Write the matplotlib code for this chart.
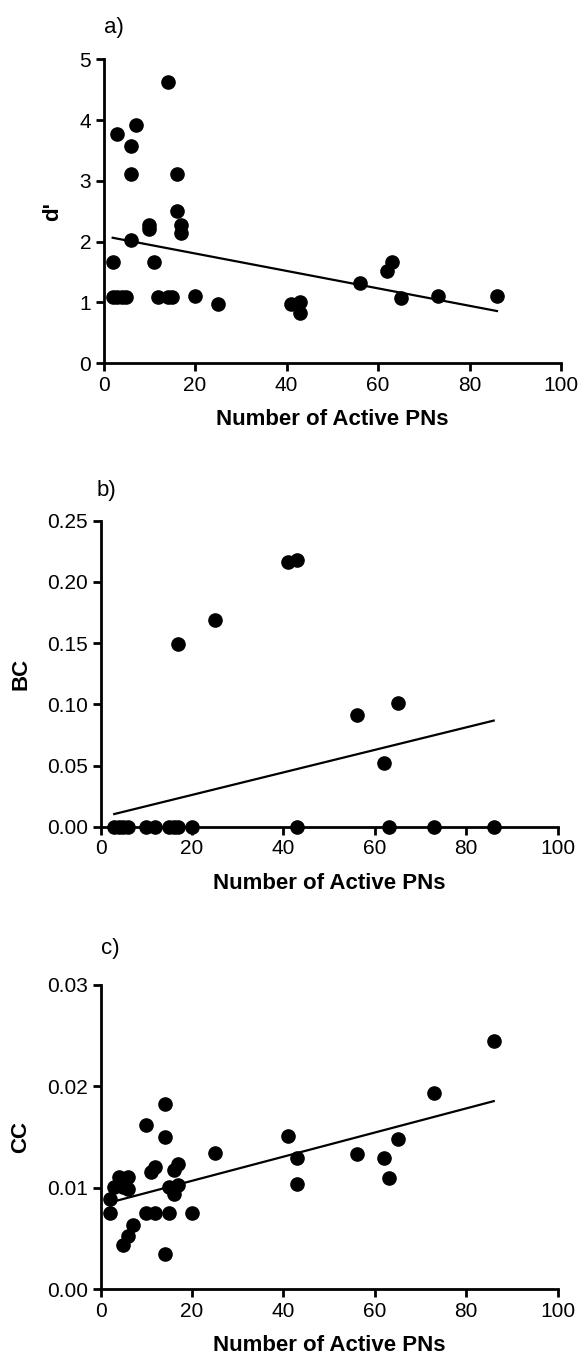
import numpy as np
import matplotlib
matplotlib.use("Agg")
import matplotlib.pyplot as plt
from matplotlib import rcParams

rcParams["font.family"] = ["Liberation Sans", "DejaVu Sans"]
rcParams["axes.linewidth"] = 2
rcParams["xtick.major.width"] = 2
rcParams["ytick.major.width"] = 2
rcParams["xtick.major.size"] = 6
rcParams["ytick.major.size"] = 6
rcParams["xtick.labelsize"] = 15
rcParams["ytick.labelsize"] = 15

# a) d' vs number of active PNs
a_x = [14, 3, 7, 6, 6, 16, 16, 10, 10, 17, 17, 6, 2, 11,
       2, 3, 4, 5, 12, 14, 15, 20, 25, 41, 43, 43, 56, 62, 63, 65, 73, 86]
a_y = [4.62, 3.77, 3.92, 3.57, 3.11, 3.11, 2.51, 2.27, 2.21, 2.28, 2.15, 2.03, 1.67, 1.67,
       1.09, 1.09, 1.09, 1.09, 1.09, 1.09, 1.09, 1.10, 0.97, 0.97, 1.00, 0.82, 1.32, 1.52, 1.67, 1.07, 1.10, 1.10]
a_fit = (2.093, -0.01435)   # intercept, slope

# b) BC vs number of active PNs
b_x = [17, 25, 41, 43, 56, 62, 65,
       3, 4, 5, 6, 10, 12, 15, 16, 17, 20, 43, 63, 73, 86]
b_y = [0.149, 0.169, 0.216, 0.218, 0.091, 0.052, 0.101,
       0, 0, 0, 0, 0, 0, 0, 0, 0, 0, 0, 0, 0, 0]
b_fit = (0.0076, 0.00092)

# c) CC vs number of active PNs
c_x = [14, 10, 14, 41, 25, 43, 43, 56, 12, 11, 17, 16, 17, 15, 16,
       2, 10, 12, 15, 20, 2, 3, 4, 6, 6, 5, 7, 6, 5, 14, 65, 62, 63, 73, 86]
c_y = [0.0183, 0.0162, 0.0150, 0.0151, 0.0134, 0.0129, 0.0104, 0.0133, 0.0121, 0.0116,
       0.0123, 0.0118, 0.0103, 0.0101, 0.0094,
       0.0075, 0.0075, 0.0075, 0.0075, 0.0075, 0.0089, 0.0101, 0.0111, 0.0111, 0.0099,
       0.0101, 0.0063, 0.0053, 0.0044, 0.0035, 0.0148, 0.0129, 0.0110, 0.0193, 0.0245]
c_fit = (0.00831, 0.000119)

x_ticks = [0, 20, 40, 60, 80, 100]

panels = [
    # x, y, fit, ylabel, letter, yticks, ytick format, axes rect, ylabel x, letter pos
    (a_x, a_y, a_fit, "d'", "a)", [0, 1, 2, 3, 4, 5], "%d",
     [0.1788, 0.7329, 0.7902, 0.2235], -0.089, (0.0, 1.105)),
    (b_x, b_y, b_fit, "BC", "b)", [0, 0.05, 0.10, 0.15, 0.20, 0.25], "%.2f",
     [0.1736, 0.3921, 0.7896, 0.2250], -0.152, (-0.008, 1.10)),
    (c_x, c_y, c_fit, "CC", "c)", [0, 0.01, 0.02, 0.03], "%.2f",
     [0.1736, 0.0520, 0.7896, 0.2238], -0.152, (0.0, 1.12)),
]

fig = plt.figure(figsize=(5.79, 13.6), dpi=100)

for x, y, fit, ylab, letter, yticks, fmt, rect, ylx, lpos in panels:
    ax = fig.add_axes(rect)
    ax.plot(x, y, "o", color="black", markersize=9.5, clip_on=False, zorder=5)
    xs = np.array([min(x), max(x)])
    ax.plot(xs, fit[0] + fit[1] * xs, color="black", linewidth=1.6, zorder=4)

    ax.set_xlim(0, 100)
    ax.set_ylim(yticks[0], yticks[-1])
    ax.set_xticks(x_ticks)
    ax.set_yticks(yticks)
    ax.set_yticklabels([fmt % t for t in yticks])
    for s in ["top", "right"]:
        ax.spines[s].set_visible(False)
    ax.tick_params(direction="out", pad=3)

    ax.set_xlabel("Number of Active PNs", fontsize=16, fontweight="bold")
    ax.xaxis.set_label_coords(0.5, -0.15)
    ax.set_ylabel(ylab, fontsize=16, fontweight="bold")
    ax.yaxis.set_label_coords(ylx, 0.5)
    ax.text(lpos[0], lpos[1], letter, transform=ax.transAxes, fontsize=16,
            ha="left", va="center")

plt.savefig("out.png", dpi=100)
